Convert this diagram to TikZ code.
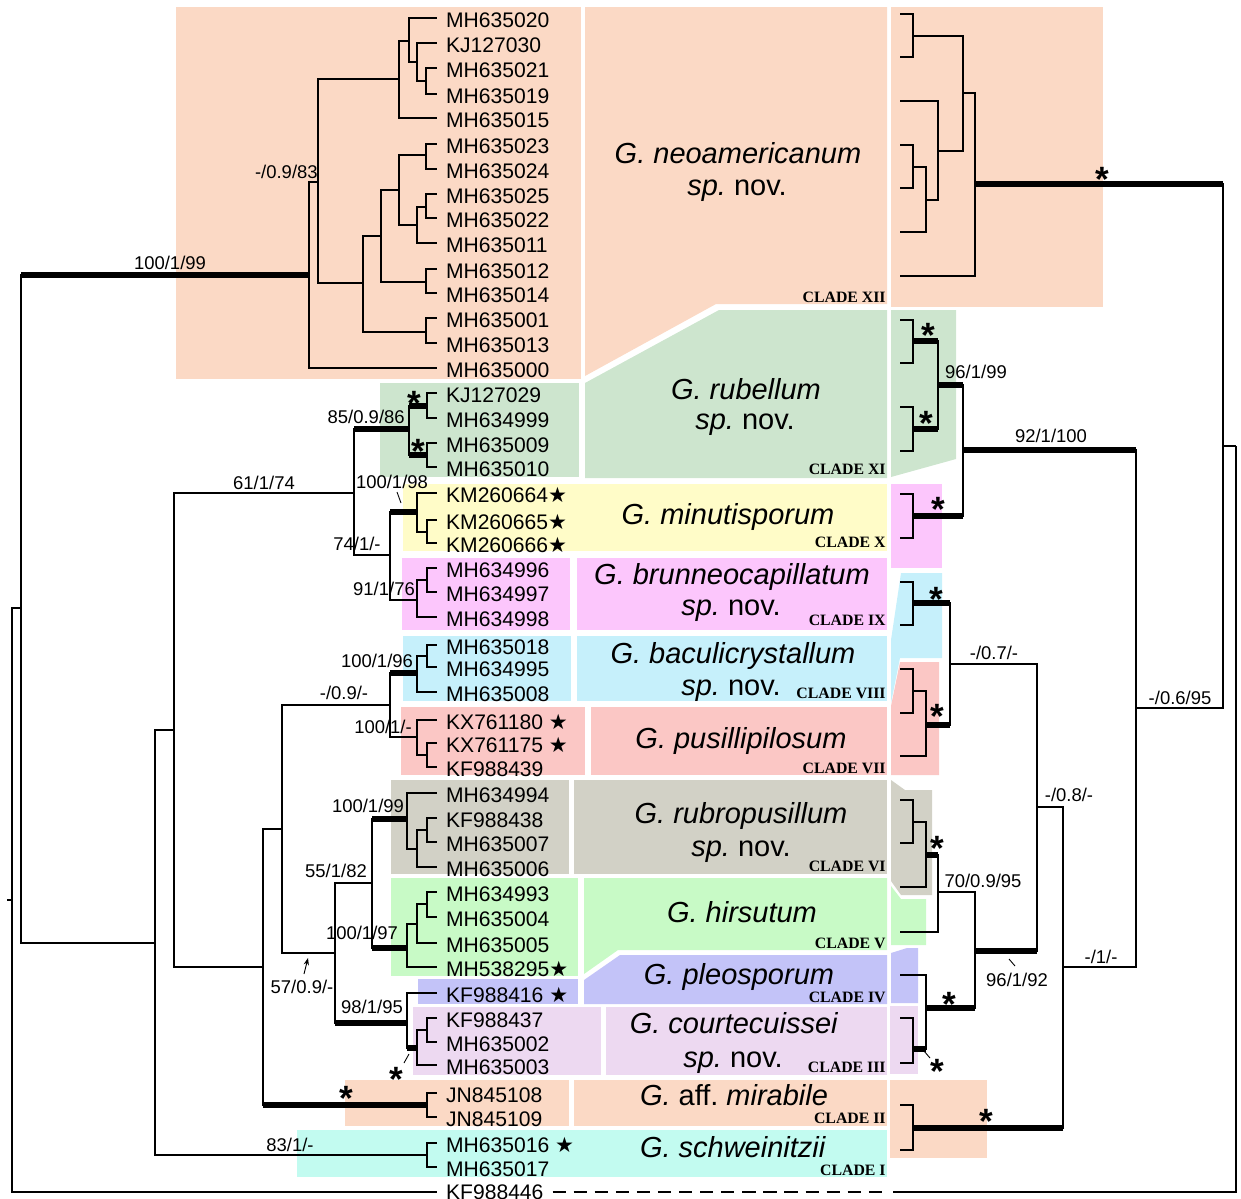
\documentclass[tikz,border=0pt]{standalone}
\usepackage{fontspec}
\setmainfont{Liberation Sans}
\newfontfamily\cladefont{Liberation Serif}
\newfontfamily\symfont{DejaVu Sans}
\usetikzlibrary{arrows.meta}
\frenchspacing
\definecolor{peach}{RGB}{251,217,197}
\definecolor{sage}{RGB}{205,229,206}
\definecolor{cream}{RGB}{255,252,200}
\definecolor{orchid}{RGB}{252,198,252}
\definecolor{sky}{RGB}{198,240,251}
\definecolor{rose}{RGB}{251,199,197}
\definecolor{stone}{RGB}{210,209,198}
\definecolor{mint}{RGB}{200,250,198}
\definecolor{periwinkle}{RGB}{195,195,248}
\definecolor{lilac}{RGB}{237,217,241}
\definecolor{seafoam}{RGB}{194,251,240}

\begin{document}
\begin{tikzpicture}[
    x=0.02cm, y=-0.02cm,
    branch/.style={line width=1pt},
    heavy/.style={line width=3pt},
    ptr/.style={line width=0.5pt},
    leaf/.style={anchor=west, inner xsep=5pt, inner ysep=0pt,
                 font=\fontsize{12}{12}\selectfont, text height=10.5pt, text depth=0pt},
    supp/.style={anchor=base, inner sep=0pt, font=\fontsize{10.5}{10.5}\selectfont},
    taxon/.style={anchor=base, inner sep=0pt, font=\fontsize{16.5}{16.5}\selectfont},
    clade/.style={anchor=base east, inner sep=0pt, font=\cladefont\bfseries\fontsize{9}{9}\selectfont},
    ast/.style={anchor=base, inner sep=0pt, yshift=-11pt, font=\bfseries\fontsize{20}{20}\selectfont}
  ]
  \useasboundingbox (0,0) rectangle (1241,1198);

  % clade backgrounds
  \fill[peach] (176,7) rectangle (581,379);
  \fill[peach] (585,7) -- (887,7) -- (887,304) -- (716,304) -- (585,376) -- cycle;
  \fill[peach] (891,7) rectangle (1103,307);
  \fill[sage] (380,383) rectangle (579,477);
  \fill[sage] (585,383) -- (719,310) -- (887,310) -- (887,478) -- (585,478) -- cycle;
  \fill[sage] (891,310) -- (956,310) -- (956,459) -- (891,477) -- cycle;
  \fill[cream] (403,484) rectangle (887,551);
  \fill[orchid] (402,558) rectangle (570,630);
  \fill[orchid] (577,558) rectangle (887,630);
  \fill[orchid] (891,484) rectangle (942,568);
  \fill[sky] (403,636) rectangle (571,701);
  \fill[sky] (577,636) rectangle (887,701);
  \fill[sky] (901,573) -- (942,573) -- (942,658) -- (900,658) -- (891,703) -- (891,640) -- cycle;
  \fill[rose] (401,707) rectangle (585,775);
  \fill[rose] (591,707) rectangle (887,775);
  \fill[rose] (900,662) -- (939,662) -- (939,775) -- (891,775) -- (891,706) -- cycle;
  \fill[stone] (391,780) rectangle (569,874);
  \fill[stone] (574,780) rectangle (887,874);
  \fill[stone] (891,780) -- (905,790) -- (932,790) -- (932,895) -- (901,895) -- (891,881) -- cycle;
  \fill[mint] (391,878) rectangle (578,976);
  \fill[mint] (584,878) -- (887,878) -- (887,950) -- (618,950) -- (584,974) -- cycle;
  \fill[mint] (891,886) -- (901,899) -- (926,899) -- (926,945) -- (891,945) -- cycle;
  \fill[periwinkle] (418,979) rectangle (578,1004);
  \fill[periwinkle] (584,980) -- (620,955) -- (887,955) -- (887,1004) -- (584,1004) -- cycle;
  \fill[periwinkle] (891,953) -- (907,948) -- (918,948) -- (918,1003) -- (891,1003) -- cycle;
  \fill[lilac] (413,1007) rectangle (601,1075);
  \fill[lilac] (606,1007) rectangle (887,1075);
  \fill[lilac] (890,1006) rectangle (918,1074);
  \fill[peach] (345,1080) rectangle (569,1126);
  \fill[peach] (574,1080) rectangle (887,1126);
  \fill[peach] (890,1080) rectangle (987,1158);
  \fill[seafoam] (297,1130) rectangle (887,1177);

  % tip labels
  \foreach \name/\y in {MH635020/18, KJ127030/43, MH635021/68, MH635019/94, MH635015/118,
      MH635023/144, MH635024/169, MH635025/194, MH635022/218, MH635011/243, MH635012/269,
      MH635014/293, MH635001/318, MH635013/343, MH635000/368, KJ127029/393, MH634999/418,
      MH635009/443, MH635010/467, MH634996/568, MH634997/592, MH634998/617, MH635018/645,
      MH634995/667, MH635008/692, KF988439/767, MH634994/793, KF988438/818, MH635007/842,
      MH635006/867, MH634993/892, MH635004/917, MH635005/943, KF988437/1018, MH635002/1042,
      MH635003/1065, JN845108/1093, JN845109/1117, MH635017/1167}
    \node[leaf] (\name) at (437,\y) {\name};
  \node[leaf, text height=8.6pt] (KF988446) at (437,1192) {KF988446};
  \foreach \name/\y in {KM260664/493, KM260665/520, KM260666/543, MH538295/967}
    \node[leaf] (\name) at (437,\y) {\name{\symfont★}};
  \foreach \name/\y in {KX761180/720, KX761175/743, KF988416/993, MH635016/1143}
    \node[leaf] (\name) at (437,\y) {\name\ {\symfont★}};

  % left tree
  \coordinate (r0) at (12,900);   \coordinate (n1) at (21,608);
  \coordinate (cXII) at (309,275); \coordinate (a1) at (318,182);
  \coordinate (a2) at (399,79);   \coordinate (a3) at (363,283);
  \coordinate (a4) at (409,41);   \coordinate (a5) at (417,62);
  \coordinate (a6) at (426,81);   \coordinate (a7) at (381,236);
  \coordinate (a8) at (426,332);  \coordinate (a9) at (399,190);
  \coordinate (a10) at (426,282); \coordinate (a11) at (426,155);
  \coordinate (a12) at (417,225); \coordinate (a13) at (426,207);
  \coordinate (n2) at (155,943);  \coordinate (n3) at (174,730);
  \coordinate (cI) at (427,1155); \coordinate (n4) at (354,493);
  \coordinate (cXI) at (409,429); \coordinate (b1) at (427,406);
  \coordinate (b2) at (427,455);  \coordinate (n6) at (390,555);
  \coordinate (cX) at (417,512);  \coordinate (c10) at (427,532);
  \coordinate (cIX) at (417,600); \coordinate (c9) at (427,580);
  \coordinate (n5) at (263,967);  \coordinate (cII) at (427,1105);
  \coordinate (n7) at (282,829);  \coordinate (n8) at (390,705);
  \coordinate (cVIII) at (417,673); \coordinate (c8) at (427,656);
  \coordinate (cVII) at (417,737); \coordinate (c7) at (427,755);
  \coordinate (n9) at (335,953);  \coordinate (n10) at (372,883);
  \coordinate (cVI) at (407,819); \coordinate (c6a) at (417,849);
  \coordinate (c6b) at (427,830); \coordinate (cV) at (407,948);
  \coordinate (c5a) at (417,924); \coordinate (c5b) at (427,904);
  \coordinate (n11) at (407,1023); \coordinate (cIII) at (417,1048);
  \coordinate (c3) at (427,1030);

  \foreach \p/\c in {r0/n1, r0/KF988446.west, n1/n2, cXII/a1, cXII/MH635000.west,
      a1/a2, a1/a3, a2/a4, a2/MH635015.west, a4/MH635020.west, a4/a5,
      a5/KJ127030.west, a5/a6, a6/MH635021.west, a6/MH635019.west, a3/a7, a3/a8,
      a8/MH635001.west, a8/MH635013.west, a7/a9, a7/a10, a10/MH635012.west,
      a10/MH635014.west, a9/a11, a9/a12, a11/MH635023.west, a11/MH635024.west,
      a12/a13, a12/MH635011.west, a13/MH635025.west, a13/MH635022.west,
      n2/n3, n2/cI, cI/MH635016.west, cI/MH635017.west, n3/n4, n3/n5, n4/n6,
      b1/KJ127029.west, b1/MH634999.west, b2/MH635009.west, b2/MH635010.west,
      n6/cIX, cX/KM260664.west, cX/c10, c10/KM260665.west, c10/KM260666.west,
      cIX/c9, cIX/MH634998.west, c9/MH634996.west, c9/MH634997.west, n5/n7,
      cII/JN845108.west, cII/JN845109.west, n7/n8, n7/n9, n8/cVII,
      cVIII/c8, cVIII/MH635008.west, c8/MH635018.west, c8/MH634995.west,
      cVII/KX761180.west, cVII/c7, c7/KX761175.west, c7/KF988439.west, n9/n10,
      cVI/MH634994.west, cVI/c6a, c6a/c6b, c6a/MH635006.west, c6b/KF988438.west,
      c6b/MH635007.west, cV/c5a, cV/MH538295.west, c5a/c5b, c5a/MH635005.west,
      c5b/MH634993.west, c5b/MH635004.west, n11/KF988416.west, cIII/c3,
      cIII/MH635003.west, c3/KF988437.west, c3/MH635002.west}
    \draw[branch] (\p) |- (\c);
  \foreach \p/\c in {n1/cXII, n4/cXI, cXI/b1, cXI/b2, n6/cX, n5/cII, n8/cVIII,
      n9/n11, n10/cVI, n10/cV, n11/cIII} {
    \draw[branch] (\p) |- (\c);
    \draw[heavy] (\p |- \c) -- (\c);
  }
  \draw[branch] (r0) -- ++(-5,0);

  % right tree
  \foreach \n/\y in {1/14, 2/57, 3/101, 4/145, 5/188, 6/232, 7/276, 8/320, 9/363,
      10/407, 11/451, 12/494, 13/538, 14/582, 15/625, 16/669, 17/713, 18/756,
      19/800, 20/843, 21/887, 22/932, 23/975, 24/1018, 25/1063, 26/1105, 27/1150}
    \coordinate (t\n) at (900,\y);
  \coordinate (t28) at (893,1192);
  \coordinate (R0) at (1236,446);  \coordinate (R1) at (1223,446);
  \coordinate (RXII) at (975,184); \coordinate (Ra) at (963,93);
  \coordinate (Rb) at (913,36);    \coordinate (Rc) at (938,151);
  \coordinate (Rd) at (926,200);   \coordinate (Re) at (913,167);
  \coordinate (R2) at (1136,708);  \coordinate (R3) at (963,450);
  \coordinate (R5) at (938,385);   \coordinate (RXIa) at (913,341);
  \coordinate (RXIb) at (913,429); \coordinate (RX) at (913,516);
  \coordinate (R4) at (1063,967);  \coordinate (RII) at (913,1128);
  \coordinate (R6) at (1037,807);  \coordinate (R7) at (950,664);
  \coordinate (RIX) at (913,603);  \coordinate (RVII) at (926,725);
  \coordinate (RVIIa) at (913,691); \coordinate (R8) at (975,951);
  \coordinate (R9) at (938,892);   \coordinate (R11) at (926,855);
  \coordinate (R12) at (913,822);  \coordinate (R10) at (926,1008);
  \coordinate (R13) at (913,1049);

  \foreach \p/\c in {R0/R1, R0/t28, R1/R2, RXII/Ra, RXII/t7, Ra/Rb, Ra/Rc, Rb/t1,
      Rb/t2, Rc/t3, Rc/Rd, Rd/Re, Rd/t6, Re/t4, Re/t5, R2/R4, RXIa/t8, RXIa/t9,
      RXIb/t10, RXIb/t11, RX/t12, RX/t13, R4/R6, RII/t26, RII/t27, R6/R7,
      RIX/t14, RIX/t15, RVII/RVIIa, RVII/t18, RVIIa/t16, RVIIa/t17, R8/R9,
      R9/t22, R11/R12, R11/t21, R12/t19, R12/t20, R10/t23, R13/t24, R13/t25}
    \draw[branch] (\p) |- (\c);
  \foreach \p/\c in {R1/RXII, R2/R3, R3/R5, R3/RX, R5/RXIa, R5/RXIb, R4/RII,
      R6/R8, R7/RIX, R7/RVII, R8/R10, R10/R13, R9/R11} {
    \draw[branch] (\p) |- (\c);
    \draw[heavy] (\p |- \c) -- (\c);
  }
  \coordinate (dashend) at (886,1192);
  \draw[branch, dash pattern=on 7.5pt off 4.5pt] (KF988446.east) -- (dashend);

  % support values
  \node[supp] (s1) at (170,269) {100/1/99};
  \node[supp, anchor=base east] (s2) at (318,178) {-/0.9/83};
  \node[supp, anchor=base east] (s3) at (405,423) {85/0.9/86};
  \node[supp] (s4) at (264,489) {61/1/74};
  \node[supp] (s5) at (392,488) {100/1/98};
  \node[supp] (s6) at (357,550) {74/1/-};
  \node[supp] (s7) at (384,595) {91/1/76};
  \node[supp] (s8) at (377,667) {100/1/96};
  \node[supp] (s9) at (344,699) {-/0.9/-};
  \node[supp] (s10) at (383,733) {100/1/-};
  \node[supp] (s11) at (368,812) {100/1/99};
  \node[supp] (s12) at (336,877) {55/1/82};
  \node[supp] (s13) at (362,939) {100/1/97};
  \node[supp] (s14) at (302,993) {57/0.9/-};
  \node[supp] (s15) at (372,1013) {98/1/95};
  \node[supp] (s16) at (290,1151) {83/1/-};
  \node[supp] (s17) at (976,378) {96/1/99};
  \node[supp] (s18) at (1051,442) {92/1/100};
  \node[supp] (s19) at (994,659) {-/0.7/-};
  \node[supp] (s20) at (1180,704) {-/0.6/95};
  \node[supp] (s21) at (1069,801) {-/0.8/-};
  \node[supp] (s22) at (983,887) {70/0.9/95};
  \node[supp] (s23) at (1017,986) {96/1/92};
  \node[supp] (s24) at (1101,963) {-/1/-};

  % full support marks
  \foreach \n/\x/\y in {1/414/396, 2/418/444, 3/346/1091, 4/396/1072, 5/1102/172,
      6/928/328, 7/926/416, 8/938/502, 9/936/592, 10/937/709, 11/937/841,
      12/949/997, 13/937/1064, 14/986/1114}
    \node[ast] (k\n) at (\x,\y) {*};

  % pointers
  \coordinate (p1a) at (397,492);  \coordinate (p1b) at (401,503);
  \coordinate (p2a) at (409,1054); \coordinate (p2b) at (404,1063);
  \coordinate (p3a) at (924,1051); \coordinate (p3b) at (930,1058);
  \coordinate (p4a) at (1009,959); \coordinate (p4b) at (1015,966);
  \coordinate (p5a) at (304,974);  \coordinate (p5b) at (308,958);
  \draw[ptr] (p1a) -- (p1b);
  \draw[ptr] (p2a) -- (p2b);
  \draw[ptr] (p3a) -- (p3b);
  \draw[ptr] (p4a) -- (p4b);
  \draw[ptr, -{Stealth[length=4pt, width=3pt]}] (p5a) -- (p5b);

  % clade names
  \node[taxon] (g12) at (738,163) {\textit{G. neoamericanum}};
  \node[taxon] (g12b) at (737,195) {\textit{sp.} nov.};
  \node[clade] (l12) at (886,302) {CLADE XII};
  \node[taxon] (g11) at (746,399) {\textit{G. rubellum}};
  \node[taxon] (g11b) at (745,429) {\textit{sp.} nov.};
  \node[clade] (l11) at (886,474) {CLADE XI};
  \node[taxon] (g10) at (728,524) {\textit{G. minutisporum}};
  \node[clade] (l10) at (886,547) {CLADE X};
  \node[taxon] (g9) at (732,584) {\textit{G. brunneocapillatum}};
  \node[taxon] (g9b) at (731,615) {\textit{sp.} nov.};
  \node[clade] (l9) at (886,625) {CLADE IX};
  \node[taxon] (g8) at (733,663) {\textit{G. baculicrystallum}};
  \node[taxon] (g8b) at (731,695) {\textit{sp.} nov.};
  \node[clade] (l8) at (886,698) {CLADE VIII};
  \node[taxon] (g7) at (741,748) {\textit{G. pusillipilosum}};
  \node[clade] (l7) at (886,773) {CLADE VII};
  \node[taxon] (g6) at (741,823) {\textit{G. rubropusillum}};
  \node[taxon] (g6b) at (741,856) {\textit{sp.} nov.};
  \node[clade] (l6) at (886,871) {CLADE VI};
  \node[taxon] (g5) at (742,922) {\textit{G. hirsutum}};
  \node[clade] (l5) at (886,948) {CLADE V};
  \node[taxon] (g4) at (739,984) {\textit{G. pleosporum}};
  \node[clade] (l4) at (886,1002) {CLADE IV};
  \node[taxon] (g3) at (734,1033) {\textit{G. courtecuissei}};
  \node[taxon] (g3b) at (733,1067) {\textit{sp.} nov.};
  \node[clade] (l3) at (886,1072) {CLADE III};
  \node[taxon] (g2) at (734,1105) {\textit{G.} aff. \textit{mirabile}};
  \node[clade] (l2) at (886,1123) {CLADE II};
  \node[taxon] (g1) at (733,1157) {\textit{G. schweinitzii}};
  \node[clade] (l1) at (886,1175) {CLADE I};
\end{tikzpicture}
\end{document}
